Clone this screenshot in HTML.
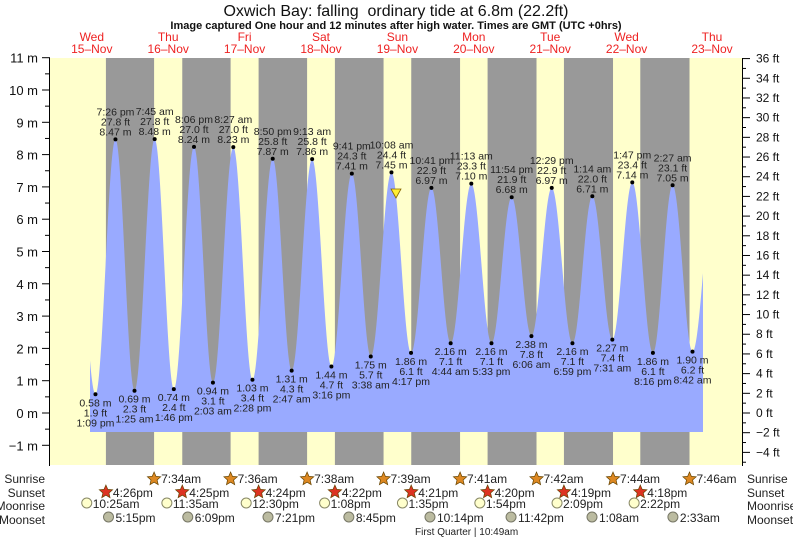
<!DOCTYPE html>
<html><head><meta charset="utf-8"><style>
html,body{margin:0;padding:0;background:#fff;}
svg{display:block;font-family:"Liberation Sans",sans-serif;}
</style></head><body>
<svg id="s" width="793" height="539" xmlns="http://www.w3.org/2000/svg"></svg>
<script>
const S=document.getElementById('s');let h='';
const X=t=>130+76.4*t/24;
const Y=m=>413-32.3*m;
const T=(d,hh,mm,pm)=>{let H=hh%12+(pm?12:0);return (d-16)*24+H+mm/60;};
h+=`<rect x="50" y="58" width="693" height="407" fill="#ffffcc"/>`;
const ss=[[15,4,26],[16,4,25],[17,4,24],[18,4,22],[19,4,21],[20,4,20],[21,4,19],[22,4,18]];
const sr=[[16,7,34],[17,7,36],[18,7,38],[19,7,39],[20,7,41],[21,7,42],[22,7,44],[23,7,46]];
for(let i=0;i<8;i++){const a=X(T(ss[i][0],ss[i][1],ss[i][2],1)),b=X(T(sr[i][0],sr[i][1],sr[i][2],0));h+=`<rect x="${a}" y="58" width="${b-a}" height="407" fill="#999999"/>`;}
const E=[[15,6,0,0,8.3],[15,1,9,1,0.58],[15,7,26,1,8.47],[16,1,25,0,0.69],[16,7,45,0,8.48],[16,1,46,1,0.74],[16,8,6,1,8.24],[17,2,3,0,0.94],[17,8,27,0,8.23],[17,2,28,1,1.03],[17,8,50,1,7.87],[18,2,47,0,1.31],[18,9,13,0,7.86],[18,3,16,1,1.44],[18,9,41,1,7.41],[19,3,38,0,1.75],[19,10,8,0,7.45],[19,4,17,1,1.86],[19,10,41,1,6.97],[20,4,44,0,2.16],[20,11,13,0,7.10],[20,5,33,1,2.16],[20,11,54,1,6.68],[21,6,6,0,2.38],[21,12,29,1,6.97],[21,6,59,1,2.16],[22,1,14,0,6.71],[22,7,31,0,2.27],[22,1,47,1,7.14],[22,8,16,1,1.86],[23,2,27,0,7.05],[23,8,42,0,1.90],[23,3,30,1,7.0]];
const P=E.map(e=>[T(e[0],e[1],e[2],e[3]),e[4]]);
function lv(t){for(let i=0;i<P.length-1;i++){if(t>=P[i][0]&&t<=P[i+1][0]){const f=(t-P[i][0])/(P[i+1][0]-P[i][0]);return P[i][1]+(P[i+1][1]-P[i][1])*(1-Math.cos(Math.PI*f))/2;}}return 0;}
let pts=[];for(let x=90;x<=703;x+=0.5){const t=(x-130)/76.4*24;pts.push(x+','+Y(lv(t)).toFixed(1));}
h+=`<polygon points="90,432 ${pts.join(' ')} 703,432" fill="#99aaff"/>`;
const lab=[["1:09 pm","1.9 ft","0.58 m"],["7:26 pm","27.8 ft","8.47 m"],["1:25 am","2.3 ft","0.69 m"],["7:45 am","27.8 ft","8.48 m"],["1:46 pm","2.4 ft","0.74 m"],["8:06 pm","27.0 ft","8.24 m"],["2:03 am","3.1 ft","0.94 m"],["8:27 am","27.0 ft","8.23 m"],["2:28 pm","3.4 ft","1.03 m"],["8:50 pm","25.8 ft","7.87 m"],["2:47 am","4.3 ft","1.31 m"],["9:13 am","25.8 ft","7.86 m"],["3:16 pm","4.7 ft","1.44 m"],["9:41 pm","24.3 ft","7.41 m"],["3:38 am","5.7 ft","1.75 m"],["10:08 am","24.4 ft","7.45 m"],["4:17 pm","6.1 ft","1.86 m"],["10:41 pm","22.9 ft","6.97 m"],["4:44 am","7.1 ft","2.16 m"],["11:13 am","23.3 ft","7.10 m"],["5:33 pm","7.1 ft","2.16 m"],["11:54 pm","21.9 ft","6.68 m"],["6:06 am","7.8 ft","2.38 m"],["12:29 pm","22.9 ft","6.97 m"],["6:59 pm","7.1 ft","2.16 m"],["1:14 am","22.0 ft","6.71 m"],["7:31 am","7.4 ft","2.27 m"],["1:47 pm","23.4 ft","7.14 m"],["8:16 pm","6.1 ft","1.86 m"],["2:27 am","23.1 ft","7.05 m"],["8:42 am","6.2 ft","1.90 m"]];
for(let i=1;i<P.length-1;i++){const x=X(P[i][0]),y=Y(P[i][1]),L=lab[i-1];h+=`<circle cx="${x}" cy="${y}" r="2" fill="#000"/>`;
 const hi=P[i][1]>4;const st='font-size="10.5" text-anchor="middle" fill="#222"';
 if(hi){h+=`<text x="${x}" y="${y-4}" ${st}>${L[2]}</text><text x="${x}" y="${y-14}" ${st}>${L[1]}</text><text x="${x}" y="${y-24}" ${st}>${L[0]}</text>`;}
 else{h+=`<text x="${x}" y="${y+12}" ${st}>${L[2]}</text><text x="${x}" y="${y+22}" ${st}>${L[1]}</text><text x="${x}" y="${y+32}" ${st}>${L[0]}</text>`;}}
h+=`<polygon points="391,189 401,189 396,198" fill="#ffee33" stroke="#886600" stroke-width="0.8"/>`;
h+=`<line x1="49.5" y1="58" x2="49.5" y2="466" stroke="#000"/><line x1="742.5" y1="58" x2="742.5" y2="466" stroke="#000"/>`;
for(let m=-1;m<=11;m++){const y=Y(m);h+=`<line x1="42" y1="${y}" x2="50" y2="${y}" stroke="#000"/><text x="38" y="${y+5}" font-size="13" text-anchor="end" fill="#111">${m<0?'\u2212'+(-m):m} m</text>`;if(m<11)h+=`<line x1="45" y1="${Y(m+0.5)}" x2="50" y2="${Y(m+0.5)}" stroke="#000"/>`;}
for(let f=-5;f<=36;f++){const y=413-9.845*f;if(y<57||y>466)continue;const big=f%2==0;h+=`<line x1="742" y1="${y}" x2="${big?750:746}" y2="${y}" stroke="#000"/>`;if(big&&f>=-4)h+=`<text x="756" y="${y+4}" font-size="12" fill="#111">${f<0?'\u2212'+(-f):f} ft</text>`;}
h+=`<text x="396" y="16" font-size="16" text-anchor="middle" fill="#111">Oxwich Bay: falling\u00a0 ordinary tide at 6.8m (22.2ft)</text>`;
h+=`<text x="396" y="29" font-size="11" font-weight="bold" text-anchor="middle" fill="#111">Image captured One hour and 12 minutes after high water. Times are GMT (UTC +0hrs)</text>`;
const days=[["Wed","15"],["Thu","16"],["Fri","17"],["Sat","18"],["Sun","19"],["Mon","20"],["Tue","21"],["Wed","22"],["Thu","23"]];
days.forEach((d,i)=>{const x=i==8?712:X((i-1)*24+12);h+=`<text x="${x}" y="41" font-size="12" text-anchor="middle" fill="#ee2222">${d[0]}</text><text x="${x}" y="53" font-size="12" text-anchor="middle" fill="#ee2222">${d[1]}\u2013Nov</text>`;});
const rows=[["Sunrise",479],["Sunset",493],["Moonrise",506],["Moonset",520]];
rows.forEach(r=>{h+=`<text x="45" y="${r[1]+4}" font-size="12" text-anchor="end" fill="#222">${r[0]}</text><text x="747" y="${r[1]+4}" font-size="12" fill="#222">${r[0]}</text>`;});
function star(cx,cy,fill){let p=[];for(let k=0;k<10;k++){const a=-Math.PI/2+k*Math.PI/5,rr=k%2?3.2:7;p.push((cx+rr*Math.cos(a)).toFixed(1)+','+(cy+rr*Math.sin(a)).toFixed(1));}return `<polygon points="${p.join(' ')}" fill="${fill}" stroke="#664400" stroke-width="0.7"/>`;}
sr.forEach(s=>{const x=X(T(s[0],s[1],s[2],0));h+=star(x,479,'#dd8822')+`<text x="${x+7}" y="483" font-size="12" fill="#222">${s[1]}:${s[2]}am</text>`;});
ss.forEach(s=>{const x=X(T(s[0],s[1],s[2],1));h+=star(x,492,'#dd3322')+`<text x="${x+7}" y="497" font-size="12" fill="#222">${s[1]}:${s[2]}pm</text>`;});
const mr=[[15,10,25,0],[16,11,35,0],[17,12,30,1],[18,1,8,1],[19,1,35,1],[20,1,54,1],[21,2,9,1],[22,2,22,1]];
mr.forEach(s=>{const x=X(T(s[0],s[1],s[2],s[3]));h+=`<circle cx="${x}" cy="503" r="5" fill="#ffffcc" stroke="#888866"/><text x="${x+6}" y="508" font-size="12" fill="#222">${s[1]}:${String(s[2]).padStart(2,'0')}${s[3]?'pm':'am'}</text>`;});
const ms=[[15,5,15,1],[16,6,9,1],[17,7,21,1],[18,8,45,1],[19,10,14,1],[20,11,42,1],[22,1,8,0],[23,2,33,0]];
ms.forEach(s=>{const x=X(T(s[0],s[1],s[2],s[3]));h+=`<circle cx="${x}" cy="517" r="5" fill="#bbbba0" stroke="#777766"/><text x="${x+7}" y="522" font-size="12" fill="#222">${s[1]}:${String(s[2]).padStart(2,'0')}${s[3]?'pm':'am'}</text>`;});
h+=`<text x="415" y="535" font-size="10" fill="#222">First Quarter | 10:49am</text>`;
S.innerHTML=h;
</script>
</body></html>
